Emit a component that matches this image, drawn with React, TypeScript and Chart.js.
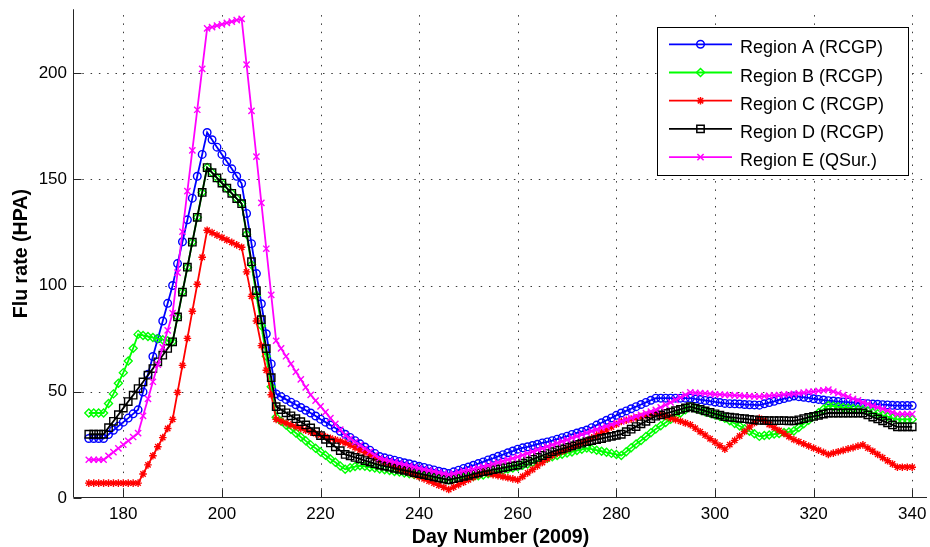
import React, { useEffect, useRef } from "react";
import { Chart, registerables } from "chart.js";

Chart.register(...registerables);

const DAYS = [
  173, 174, 175, 176, 177, 178, 179, 180, 181, 182, 183, 184, 185, 186, 187, 188, 189, 190,
  191, 192, 193, 194, 195, 196, 197, 198, 199, 200, 201, 202, 203, 204, 205, 206, 207, 208,
  209, 210, 211, 212, 213, 214, 215, 216, 217, 218, 219, 220, 221, 222, 223, 224, 225, 226,
  227, 228, 229, 230, 231, 232, 233, 234, 235, 236, 237, 238, 239, 240, 241, 242, 243, 244,
  245, 246, 247, 248, 249, 250, 251, 252, 253, 254, 255, 256, 257, 258, 259, 260, 261, 262,
  263, 264, 265, 266, 267, 268, 269, 270, 271, 272, 273, 274, 275, 276, 277, 278, 279, 280,
  281, 282, 283, 284, 285, 286, 287, 288, 289, 290, 291, 292, 293, 294, 295, 296, 297, 298,
  299, 300, 301, 302, 303, 304, 305, 306, 307, 308, 309, 310, 311, 312, 313, 314, 315, 316,
  317, 318, 319, 320, 321, 322, 323, 324, 325, 326, 327, 328, 329, 330, 331, 332, 333, 334,
  335, 336, 337, 338, 339, 340,
];

const REGION_A = [
  28, 28, 28, 28,
  29.9, 31.9, 33.8, 35.7, 37.6, 39.6, 41.5,
  49.9, 58.2, 66.6, 74.9, 83.3, 91.6, 100,
  110.3, 120.6, 130.9, 141.1, 151.4, 161.7, 172,
  168.6, 165.1, 161.7, 158.3, 154.9, 151.4, 148,
  133.9, 119.7, 105.6, 91.4, 77.3, 63.1, 49,
  47.7, 46.4, 45.1, 43.9, 42.6, 41.3, 40,
  38.6, 37.1, 35.7, 34.3, 32.9, 31.4, 30,
  28.5, 27, 25.5, 24, 22.5, 21, 19.5,
  18.9, 18.4, 17.8, 17.2, 16.6, 16.1, 15.5,
  14.9, 14.4, 13.8, 13.2, 12.6, 12.1, 11.5,
  12.3, 13.1, 13.9, 14.6, 15.4, 16.2, 17,
  17.9, 18.7, 19.6, 20.4, 21.3, 22.1, 23,
  23.6, 24.1, 24.7, 25.3, 25.9, 26.4, 27,
  27.7, 28.4, 29.1, 29.9, 30.6, 31.3, 32,
  33.1, 34.3, 35.4, 36.6, 37.7, 38.9, 40,
  41, 42, 43, 44, 45, 46, 47,
  47, 47, 47, 47, 47, 47, 47,
  46.6, 46.3, 45.9, 45.6, 45.2, 44.9, 44.5,
  44.4, 44.3, 44.2, 44, 43.9, 43.8, 43.7,
  44.3, 44.9, 45.5, 46.2, 46.8, 47.4, 48,
  47.7, 47.4, 47.1, 46.7, 46.4, 46.1, 45.8,
  45.6, 45.4, 45.2, 45.1, 44.9, 44.7, 44.5,
  44.4, 44.2, 44.1, 43.9, 43.8, 43.6, 43.5,
  43.5, 43.5, 43.5,
];

const REGION_B = [
  40, 40, 40, 40,
  44.5, 49, 54, 59, 64.5, 70.5, 77,
  76.5, 76, 75.5, 75, 74.5, 74, 73.5,
  85.2, 96.9, 108.6, 120.4, 132.1, 143.8, 155.5,
  153.1, 150.6, 148.2, 145.8, 143.4, 140.9, 138.5,
  124.1, 109.8, 95.4, 81.1, 66.7, 52.4, 38,
  36.1, 34.3, 32.4, 30.6, 28.7, 26.9, 25,
  23.4, 21.7, 20.1, 18.4, 16.8, 15.1, 13.5,
  14.2, 14.8, 15.2, 14.9, 14.5, 14.1, 13.7,
  13.3, 12.9, 12.5, 12.2, 11.8, 11.4, 11,
  10.6, 10.3, 9.9, 9.6, 9.2, 8.9, 8.5,
  8.8, 9.2, 9.5, 9.8, 10.1, 10.5, 10.8,
  11.4, 11.9, 12.5, 13, 13.6, 14.1, 14.7,
  15.4, 16, 16.7, 17.4, 18.1, 18.7, 19.4,
  20, 20.6, 21.2, 21.7, 22.3, 22.9, 23.5,
  23, 22.5, 22, 21.5, 21, 20.5, 20,
  21.8, 23.6, 25.4, 27.1, 28.9, 30.7, 32.5,
  34, 35.5, 37, 38.5, 40, 41.5, 43,
  42.2, 41.4, 40.6, 39.9, 39.1, 38.3, 37.5,
  36.3, 35.1, 33.9, 32.6, 31.4, 30.2, 29,
  29.4, 29.7, 30.1, 30.4, 30.8, 31.1, 31.5,
  33.2, 34.9, 36.6, 38.4, 40.1, 41.8, 43.5,
  43.2, 42.9, 42.6, 42.4, 42.1, 41.8, 41.5,
  40.9, 40.2, 39.6, 38.9, 38.3, 37.6, 37,
  37, 37, 37,
];

const REGION_C = [
  7, 7, 7, 7,
  7, 7, 7, 7, 7, 7, 7,
  11.3, 15.6, 19.9, 24.1, 28.4, 32.7, 37,
  49.7, 62.4, 75.1, 87.9, 100.6, 113.3, 126,
  124.9, 123.7, 122.6, 121.4, 120.3, 119.1, 118,
  106.4, 94.9, 83.3, 71.7, 60.1, 48.6, 37,
  36.1, 35.3, 34.4, 33.6, 32.7, 31.9, 31,
  30.3, 29.6, 28.9, 28.1, 27.4, 26.7, 26,
  24.9, 23.7, 22.6, 21.4, 20.3, 19.1, 18,
  17, 16, 15, 14, 13, 12, 11,
  10, 9, 8, 7, 6, 5, 4,
  5.1, 6.3, 7.4, 8.6, 9.7, 10.9, 12,
  11.5, 11, 10.5, 10, 9.5, 9, 8.5,
  10.1, 11.8, 13.4, 15.1, 16.7, 18.4, 20,
  21, 22, 23, 24, 25, 26, 27,
  28.3, 29.6, 30.9, 32.1, 33.4, 34.7, 36,
  36.6, 37.1, 37.7, 38.3, 38.9, 39.4, 40,
  39.2, 38.4, 37.6, 36.9, 36.1, 35.3, 34.5,
  32.9, 31.2, 29.6, 27.9, 26.3, 24.6, 23,
  25.1, 27.1, 29.2, 31.3, 33.4, 35.4, 37.5,
  36.1, 34.6, 33.2, 31.8, 30.4, 28.9, 27.5,
  26.5, 25.5, 24.5, 23.5, 22.5, 21.5, 20.5,
  21.1, 21.8, 22.4, 23.1, 23.7, 24.4, 25,
  23.5, 22, 20.5, 19, 17.5, 16, 14.5,
  14.5, 14.5, 14.5,
];

const REGION_D = [
  30, 30, 30, 30,
  33.1, 36.1, 39.2, 42.3, 45.4, 48.4, 51.5,
  54.6, 57.8, 60.9, 64.1, 67.2, 70.4, 73.5,
  85.2, 96.9, 108.6, 120.4, 132.1, 143.8, 155.5,
  153.1, 150.6, 148.2, 145.8, 143.4, 140.9, 138.5,
  124.9, 111.2, 97.6, 83.9, 70.3, 56.6, 43,
  41.6, 40.1, 38.7, 37.3, 35.9, 34.4, 33,
  31.2, 29.4, 27.6, 25.9, 24.1, 22.3, 20.5,
  19.8, 19.1, 18.4, 17.6, 16.9, 16.2, 15.5,
  15, 14.5, 14, 13.5, 13, 12.5, 12,
  11.5, 11, 10.5, 10, 9.5, 9, 8.5,
  9.1, 9.6, 10.2, 10.7, 11.3, 11.8, 12.4,
  12.8, 13.3, 13.7, 14.2, 14.6, 15.1, 15.5,
  16.4, 17.3, 18.2, 19.1, 20, 20.9, 21.8,
  22.5, 23.1, 23.8, 24.5, 25.2, 25.8, 26.5,
  27, 27.5, 28, 28.5, 29, 29.5, 30,
  31.2, 32.4, 33.6, 34.9, 36.1, 37.3, 38.5,
  39.1, 39.8, 40.4, 41.1, 41.7, 42.4, 43,
  42.3, 41.7, 41, 40.3, 39.6, 39, 38.3,
  38, 37.8, 37.5, 37.3, 37, 36.8, 36.5,
  36.5, 36.4, 36.4, 36.4, 36.4, 36.3, 36.3,
  36.8, 37.4, 37.9, 38.4, 38.9, 39.5, 40,
  40, 40, 40, 40, 40, 40, 40,
  39.1, 38.1, 37.2, 36.3, 35.4, 34.4, 33.5,
  33.5, 33.5, 33.5,
];

const REGION_E = [
  18, 18, 18, 18,
  19.8, 21.6, 23.4, 25.1, 26.9, 28.7, 30.5,
  38.6, 46.6, 54.7, 62.8, 70.9, 78.9, 87,
  106.1, 125.3, 144.4, 163.6, 182.7, 201.9, 221,
  221.6, 222.3, 222.9, 223.6, 224.2, 224.9, 225.5,
  203.9, 182.2, 160.6, 138.9, 117.3, 95.6, 74,
  70.4, 66.7, 63.1, 59.4, 55.8, 52.1, 48.5,
  45.8, 43.1, 40.4, 37.6, 34.9, 32.2, 29.5,
  28, 26.4, 24.9, 23.3, 21.8, 20.2, 18.7,
  18.1, 17.5, 16.9, 16.3, 15.7, 15.1, 14.5,
  14, 13.5, 13, 12.5, 12, 11.5, 11,
  11.5, 12.1, 12.6, 13.1, 13.6, 14.2, 14.7,
  15.4, 16, 16.7, 17.4, 18.1, 18.7, 19.4,
  20.2, 21, 21.8, 22.6, 23.4, 24.2, 25,
  25.8, 26.6, 27.4, 28.3, 29.1, 29.9, 30.7,
  31.5, 32.2, 33, 33.7, 34.5, 35.2, 36,
  36.8, 37.6, 38.4, 39.1, 39.9, 40.7, 41.5,
  42.7, 43.8, 45, 46.2, 47.4, 48.5, 49.7,
  49.5, 49.4, 49.2, 49, 48.8, 48.7, 48.5,
  48.4, 48.3, 48.2, 48, 47.9, 47.8, 47.7,
  47.9, 48.1, 48.3, 48.4, 48.6, 48.8, 49,
  49.3, 49.6, 49.9, 50.1, 50.4, 50.7, 51,
  50.1, 49.3, 48.4, 47.6, 46.7, 45.9, 45,
  44.2, 43.4, 42.6, 41.9, 41.1, 40.3, 39.5,
  39.5, 39.5, 39.5,
];

const SERIES_NAMES = [
  "Region A (RCGP)",
  "Region B (RCGP)",
  "Region C (RCGP)",
  "Region D (RCGP)",
  "Region E (QSur.)",
];

const X_TICKS = [180, 200, 220, 240, 260, 280, 300, 320, 340];
const Y_TICKS = [0, 50, 100, 150, 200];

const FONT = '"Liberation Sans", Arial, Helvetica, sans-serif';

const STYLES = [
  { color: "#0000ff", point: "circle", radius: 3.8 },
  { color: "#00ff00", point: "rectRot", radius: 4.0 },
  { color: "#ff0000", point: "star", radius: 3.8 },
  { color: "#000000", point: "rect", radius: 5.2 },
  { color: "#ff00ff", point: "crossRot", radius: 4.4 },
];

function drawMarker(ctx: CanvasRenderingContext2D, style: string, x: number, y: number, r: number) {
  ctx.beginPath();
  if (style === "circle") {
    ctx.arc(x, y, r, 0, Math.PI * 2);
  } else if (style === "rectRot") {
    ctx.moveTo(x, y - r);
    ctx.lineTo(x + r, y);
    ctx.lineTo(x, y + r);
    ctx.lineTo(x - r, y);
    ctx.closePath();
  } else if (style === "rect") {
    const s = r * Math.SQRT1_2;
    ctx.rect(x - s, y - s, 2 * s, 2 * s);
  } else if (style === "star") {
    ctx.moveTo(x - r, y);
    ctx.lineTo(x + r, y);
    ctx.moveTo(x, y - r);
    ctx.lineTo(x, y + r);
    const d = r * Math.SQRT1_2;
    ctx.moveTo(x - d, y - d);
    ctx.lineTo(x + d, y + d);
    ctx.moveTo(x - d, y + d);
    ctx.lineTo(x + d, y - d);
  } else if (style === "crossRot") {
    const d = r * Math.SQRT1_2;
    ctx.moveTo(x - d, y - d);
    ctx.lineTo(x + d, y + d);
    ctx.moveTo(x - d, y + d);
    ctx.lineTo(x + d, y - d);
  }
  ctx.stroke();
}

// Pin the plot area to the reference's frame (left 74, right 927, top ~9, bottom 498).
const frame = { left: 74, right: 927, top: 9.25, bottom: 498 };

const framePlugin = {
  id: "framePin",
  afterLayout(chart: any) {
    const ca = chart.chartArea;
    const xs = chart.scales.x;
    const ys = chart.scales.y;
    ca.left = frame.left;
    ca.right = frame.right;
    ca.top = frame.top;
    ca.bottom = frame.bottom;
    ca.width = frame.right - frame.left;
    ca.height = frame.bottom - frame.top;
    xs.left = frame.left;
    xs.right = frame.right;
    xs.width = frame.right - frame.left;
    xs.top = frame.bottom;
    xs.bottom = 547;
    xs.height = 547 - frame.bottom;
    xs.configure();
    ys.left = 0;
    ys.right = frame.left;
    ys.width = frame.left;
    ys.top = frame.top;
    ys.bottom = frame.bottom;
    ys.height = frame.bottom - frame.top;
    ys.configure();
  },
};

const axesPlugin = {
  id: "matlabAxes",
  beforeDatasetsDraw(chart: any) {
    const { ctx, chartArea: ca, scales } = chart;
    const xs = scales.x;
    const ys = scales.y;
    ctx.save();
    ctx.lineWidth = 1;
    ctx.strokeStyle = "#3a3a3a";
    ctx.setLineDash([1.5, 6.8]);
    for (const v of X_TICKS) {
      const px = Math.round(xs.getPixelForValue(v)) + 0.5;
      ctx.beginPath();
      ctx.moveTo(px, ca.bottom);
      ctx.lineTo(px, ca.top);
      ctx.stroke();
    }
    for (const v of Y_TICKS) {
      if (v === 0) continue;
      const py = Math.round(ys.getPixelForValue(v)) + 0.5;
      ctx.beginPath();
      ctx.moveTo(ca.left, py);
      ctx.lineTo(ca.right, py);
      ctx.stroke();
    }
    ctx.setLineDash([]);
    ctx.strokeStyle = "#262626";
    const left = Math.round(ca.left) - 0.5;
    const bottom = Math.round(ca.bottom) - 0.5;
    ctx.beginPath();
    ctx.moveTo(left, ca.top);
    ctx.lineTo(left, bottom);
    ctx.lineTo(ca.right, bottom);
    ctx.stroke();
    ctx.beginPath();
    for (const v of X_TICKS) {
      const px = Math.round(xs.getPixelForValue(v)) + 0.5;
      ctx.moveTo(px, bottom);
      ctx.lineTo(px, bottom - 8);
    }
    for (const v of Y_TICKS) {
      const py = Math.round(ys.getPixelForValue(v)) + 0.5;
      ctx.moveTo(left, py);
      ctx.lineTo(left + 8, py);
    }
    ctx.stroke();
    ctx.restore();
  },
};

const legendPlugin = {
  id: "matlabLegend",
  afterDatasetsDraw(chart: any) {
    const { ctx } = chart;
    const bx = 657, by = 27, bw = 251, bh = 148;
    ctx.save();
    ctx.fillStyle = "#ffffff";
    ctx.fillRect(bx, by, bw, bh);
    ctx.strokeStyle = "#000000";
    ctx.lineWidth = 1;
    ctx.strokeRect(bx + 0.5, by + 0.5, bw, bh);
    SERIES_NAMES.forEach((name, i) => {
      const st = STYLES[i];
      const y = 44.3 + i * 28.2;
      ctx.strokeStyle = st.color;
      ctx.lineWidth = 1.8;
      ctx.beginPath();
      ctx.moveTo(669, y);
      ctx.lineTo(732, y);
      ctx.stroke();
      ctx.lineWidth = 1.5;
      drawMarker(ctx, st.point, 700.5, y, st.radius);
      ctx.fillStyle = "#000000";
      ctx.font = `18px ${FONT}`;
      ctx.textBaseline = "alphabetic";
      ctx.textAlign = "left";
      ctx.fillText(name, 740, y + 9);
    });
    ctx.restore();
  },
};

export default function App() {
  const canvasRef = useRef<HTMLCanvasElement | null>(null);

  useEffect(() => {
    const canvas = canvasRef.current;
    if (!canvas) return;
    const allSeries = [REGION_A, REGION_B, REGION_C, REGION_D, REGION_E];
    const datasets = allSeries.map((vals, i) => ({
      label: SERIES_NAMES[i],
      data: DAYS.map((d, k) => ({ x: d, y: vals[k] })),
      borderColor: STYLES[i].color,
      backgroundColor: "rgba(0,0,0,0)",
      borderWidth: 1.8,
      pointStyle: STYLES[i].point,
      pointRadius: STYLES[i].radius,
      pointBorderWidth: 1.4,
      pointBorderColor: STYLES[i].color,
      pointBackgroundColor: "rgba(0,0,0,0)",
      tension: 0,
      order: 4 - i,
    }));

    const chart = new Chart(canvas, {
      type: "line",
      data: { datasets },
      options: {
        responsive: false,
        animation: false,
        layout: { padding: { top: 9.25, right: 3, left: 0, bottom: 0 } },
        plugins: { legend: { display: false }, tooltip: { enabled: false } },
        scales: {
          x: {
            type: "linear",
            min: 170,
            max: 343,
            afterBuildTicks: (s: any) => {
              s.ticks = X_TICKS.map((v) => ({ value: v }));
            },
            afterFit: (s: any) => {
              s.height = 49;
              s.paddingLeft = 0;
              s.paddingRight = 0;
            },
            grid: { display: false, drawTicks: false },
            border: { display: false },
            ticks: {
              color: "#000",
              font: { family: FONT, size: 17 },
              padding: 6,
              maxRotation: 0,
              autoSkip: false,
            },
            title: {
              display: true,
              text: "Day Number (2009)",
              color: "#000",
              font: { family: FONT, size: 19.6, weight: "bold", lineHeight: 1 },
              padding: { top: 0, bottom: 0 },
            },
          },
          y: {
            type: "linear",
            min: 0,
            max: 230,
            afterBuildTicks: (s: any) => {
              s.ticks = Y_TICKS.map((v) => ({ value: v }));
            },
            afterFit: (s: any) => {
              s.width = 74;
              s.paddingTop = 0;
              s.paddingBottom = 0;
            },
            grid: { display: false, drawTicks: false },
            border: { display: false },
            ticks: {
              color: "#000",
              font: { family: FONT, size: 17 },
              padding: 7,
            },
            title: {
              display: true,
              text: "Flu rate (HPA)",
              color: "#000",
              font: { family: FONT, size: 19.6, weight: "bold", lineHeight: 1 },
              padding: { top: 12, bottom: 0 },
            },
          },
        },
      } as any,
      plugins: [framePlugin, axesPlugin, legendPlugin],
    });
    return () => chart.destroy();
  }, []);

  return (
    <div style={{ position: "fixed", left: 0, top: 0, width: 930, height: 547, background: "#fff" }}>
      <canvas ref={canvasRef} width={930} height={547} style={{ display: "block", width: 930, height: 547 }} />
    </div>
  );
}
